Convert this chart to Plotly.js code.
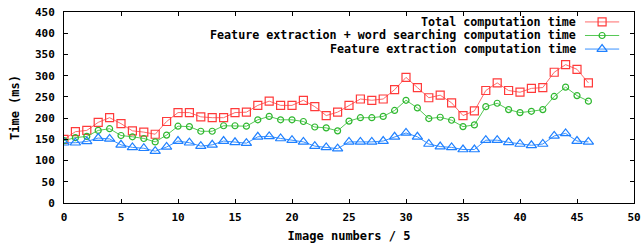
<!DOCTYPE html>
<html>
<head>
<meta charset="utf-8">
<script src="https://cdn.plot.ly/plotly-3.0.1.min.js"></script>
<style>html,body{margin:0;padding:0;background:#fff;}#chart{width:641px;height:246px;}</style>
</head>
<body>
<div id="chart"></div>
<script>
const imageIndex = [0,1,2,3,4,5,6,7,8,9,10,11,12,13,14,15,16,17,18,19,20,21,22,23,24,25,26,27,28,29,30,31,32,33,34,35,36,37,38,39,40,41,42,43,44,45,46];
const totalTime = [150,168,171,190,201,187,170,167,162,192,213,213,203,201,201,213,214,230,240,230,230,242,227,206,214,230,245,242,245,267,296,272,248,254,236,206,217,265,283,265,261,270,272,308,326,315,283];
const featWordTime = [147,154,157,171,175,159,156,152,144,160,181,180,169,169,182,182,181,196,204,196,196,192,179,177,170,193,201,201,204,218,242,224,199,202,195,180,184,227,235,220,213,216,220,251,273,253,240];
const featTime = [142,142,145,153,151,137,131,129,122,132,146,142,134,137,146,143,141,156,157,152,148,144,134,131,128,144,144,144,146,156,165,156,139,133,131,126,126,148,148,143,139,136,139,158,164,146,144];
const seriesNames = ["Total computation time","Feature extraction + word searching computation time","Feature extraction computation time"];
const xTitle = "Image numbers / 5";
const yTitle = "Time (ms)";

const colors = ["#ff3a3a","#2fb82f","#1f80ff"];
const lineColors = ["#ff6a6a","#55c855","#3890ff"];
const symbols = ["square-open","circle-open","triangle-up-open"];
const sizes = [8,6,9];
const font = "DejaVu Sans Mono, monospace";
const dataSeries = [totalTime, featWordTime, featTime];

const traces = [];
dataSeries.forEach((ys,i)=>{
  traces.push({
    x: imageIndex, y: ys, type: "scatter", mode: "lines+markers",
    name: seriesNames[i], showlegend: false,
    line: {color: lineColors[i], width: 1},
    marker: {symbol: symbols[i], size: sizes[i], color: colors[i], line: {width: 1.2, color: colors[i]}}
  });
});
// manual gnuplot-style legend (text left, sample right)
const legY = [0.948, 0.877, 0.806];
const annotations = [];
seriesNames.forEach((n,i)=>{
  traces.push({x:[0.914,0.974], y:[legY[i],legY[i]], xaxis:"x2", yaxis:"y2", mode:"lines", showlegend:false, hoverinfo:"skip",
    line:{color: lineColors[i], width:1}});
  traces.push({x:[0.944], y:[legY[i]], xaxis:"x2", yaxis:"y2", mode:"markers", showlegend:false, hoverinfo:"skip",
    marker:{symbol: symbols[i], size: sizes[i], color: colors[i], line:{width:1.2, color: colors[i]}}});
  annotations.push({xref:"paper", yref:"paper", x:0.902, y:legY[i], xanchor:"right", yanchor:"middle",
    text:n, showarrow:false, font:{family:font, size:11.7, color:"#000", weight:"bold"}});
});

const axisCommon = {
  showline:true, linecolor:"#000", linewidth:1, mirror:"ticks", ticks:"inside", ticklen:4, tickcolor:"#000",
  showgrid:false, zeroline:false, tickfont:{family:font, size:11, color:"#000", weight:"bold"}
};
const layout = {
  width:641, height:246,
  margin:{l:64, r:7, t:12, b:43},
  paper_bgcolor:"#fff", plot_bgcolor:"#fff",
  xaxis: Object.assign({}, axisCommon, {range:[0,50], dtick:5, tick0:0, ticklabelstandoff:4,
    title:{text:xTitle, font:{family:font, size:12, color:"#000", weight:"bold"}, standoff:8}}),
  yaxis: Object.assign({}, axisCommon, {range:[0,450], dtick:50, tick0:0, ticklabelstandoff:6,
    title:{text:yTitle, font:{family:font, size:12, color:"#000", weight:"bold"}, standoff:12}}),
  xaxis2:{overlaying:"x", range:[0,1], visible:false, domain:[0,1]},
  yaxis2:{overlaying:"y", range:[0,1], visible:false},
  annotations: annotations,
  showlegend:false
};
Plotly.newPlot("chart", traces, layout, {staticPlot:true, displayModeBar:false});
</script>
</body>
</html>
